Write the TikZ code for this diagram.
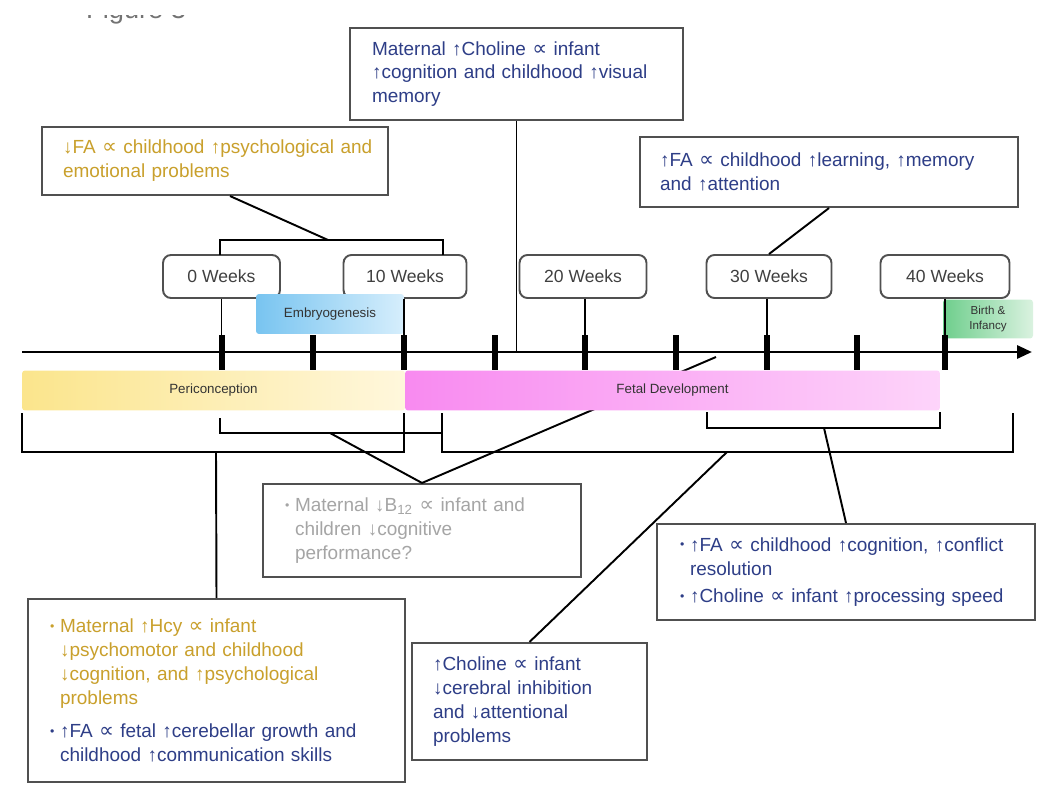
\documentclass[tikz,border=0pt]{standalone}
\usepackage{fontspec}
\setmainfont{Liberation Sans}
\newfontfamily\symfont{DejaVu Sans}[Scale=1.1]
\usetikzlibrary{arrows.meta}
\definecolor{navy}{RGB}{46,62,135}
\definecolor{gold}{RGB}{201,160,44}
\definecolor{graytext}{RGB}{165,165,165}
\definecolor{boxline}{RGB}{80,80,80}
\newcommand\prp{{\symfont ∝}}
\newcommand\bl{\makebox[0.2cm][l]{\raisebox{0.12em}{\scriptsize •}}}
\newcommand\ind{\hspace*{0.2cm}}
\begin{document}
\begin{tikzpicture}[x=0.02cm,y=-0.02cm,
  conn/.style={line width=1.1pt,black},
  tickmark/.style={line width=0.13cm,black},
  box/.style={draw=boxline,line width=1.2pt,fill=white,align=left,inner xsep=0.1cm,
    font=\fontsize{10.8}{13.6}\selectfont},
  week/.style={draw=boxline,line width=1.1pt,rounded corners=0.16cm,fill=white,
    minimum height=0.86cm,font=\fontsize{10}{11}\selectfont,text=black!75},
  bar/.style={rounded corners=0.06cm,minimum height=0.8cm,
    font=\fontsize{7.6}{9}\selectfont,text=black!80}]
\useasboundingbox (0,0) rectangle (1050,800);

% title (only its lower edge shows, as in the scan)
\node[anchor=base west,font=\fontsize{15.5}{18}\selectfont,text=black!55] (title) at (80,19) {Figure 3};
\fill[white] (60,-10) rectangle (220,15);

% axis coordinates
\coordinate (axL) at (22,352);
\coordinate (axR) at (1032,352);
\foreach \i/\x in {0/222,1/313,2/404,3/495,4/585,5/676,6/767,7/857,8/945}{
  \coordinate (t\i) at (\x,352);
}

% bracket coordinates
\coordinate (tbL) at (220,255);
\coordinate (tbR) at (443,255);
\coordinate (tbM) at (328,240);
\coordinate (pbL) at (22,413);
\coordinate (pbR) at (404,413);
\coordinate (pbB) at (216,452);
\coordinate (ibL) at (220,418);
\coordinate (ibR) at (442,433);
\coordinate (ibM) at (330,433);
\coordinate (fbL) at (442,413);
\coordinate (fbR) at (1013,413);
\coordinate (fbM) at (727,452);
\coordinate (lbL) at (707,412);
\coordinate (lbR) at (940,412);
\coordinate (lbM) at (824,428);
\coordinate (b12end) at (716,357);

% text boxes (top)
\node[box,text=gold,minimum width=6.92cm,minimum height=1.36cm,text width=6.72cm] (fa1) at (215,161)
 {\leftskip=0.32cm ↓FA \prp{} childhood ↑psychological and\\emotional problems\par};
\node[box,text=navy,minimum width=6.66cm,minimum height=1.84cm,text width=6.46cm] (ch1) at (516.5,74)
 {\leftskip=0.34cm Maternal ↑Choline \prp{} infant\\↑cognition and childhood ↑visual\\memory\par};
\node[box,text=navy,minimum width=7.56cm,minimum height=1.4cm,text width=7.36cm] (fa2) at (829,172)
 {\leftskip=0.30cm ↑FA \prp{} childhood ↑learning, ↑memory\\and ↑attention\par};

% lower boxes
\node[box,text=graytext,minimum width=6.36cm,minimum height=1.86cm,text width=6.16cm] (b12) at (422,530.5)
 {\leftskip=0.34cm \bl Maternal ↓B\textsubscript{12} \prp{} infant and\\\ind children ↓cognitive\\\ind performance?\par};
\node[box,text=navy,minimum width=7.56cm,minimum height=1.92cm,text width=7.36cm] (br) at (846,572)
 {\leftskip=0.36cm \bl ↑FA \prp{} childhood ↑cognition, ↑conflict\\\ind resolution\\[2pt]\bl ↑Choline \prp{} infant ↑processing speed\par};
\node[box,minimum width=7.54cm,minimum height=3.66cm,text width=7.34cm] (bl) at (216.5,690.5)
 {\leftskip=0.34cm \color{gold}\bl Maternal ↑Hcy \prp{} infant\\\ind ↓psychomotor and childhood\\\ind ↓cognition, and ↑psychological\\\ind problems\\[5pt]\color{navy}\bl ↑FA \prp{} fetal ↑cerebellar growth and\\\ind childhood ↑communication skills\par};
\node[box,text=navy,minimum width=4.7cm,minimum height=2.34cm,text width=4.5cm] (cb) at (529.5,701.5)
 {\leftskip=0.32cm ↑Choline \prp{} infant\\↓cerebral inhibition\\and ↓attentional\\problems\par};

% line that runs under the fetal bar
\draw[conn] (b12.north) -- (b12end);

% week boxes
\node[week,minimum width=2.34cm] (w0) at (221.5,276.5) {0 Weeks};
\node[week,minimum width=2.46cm] (w10) at (405,276.5) {10 Weeks};
\node[week,minimum width=2.54cm] (w20) at (583,276.5) {20 Weeks};
\node[week,minimum width=2.5cm] (w30) at (769,276.5) {30 Weeks};
\node[week,minimum width=2.58cm] (w40) at (945,276.5) {40 Weeks};

% top bracket and its connectors
\draw[conn] (tbL) -- ++(0,-15) -| (tbR);
\draw[conn] ([xshift=0.3cm]fa1.south) -- (tbM);
\draw[conn] (ch1.south) -- (ch1.south |- axL);
\draw[conn] (fa2.south) -- (w30.north);

% phase boxes above the axis
\node[bar,left color={rgb,255:red,120;green,196;blue,240},right color={rgb,255:red,214;green,238;blue,252},
  minimum width=2.96cm,minimum height=0.8cm] (emb) at (330,314) {Embryogenesis};
\node[bar,left color={rgb,255:red,110;green,206;blue,140},right color={rgb,255:red,218;green,242;blue,224},
  minimum width=1.8cm,minimum height=0.78cm,align=center,font=\fontsize{6.6}{8}\selectfont] (birth) at (988,319) {Birth \&\\Infancy};

% week connectors
\draw[conn] (w0.south) -- (w0.south |- t0);
\draw[conn] (w10.south -| t2) -- (t2);
\draw[conn] (w20.south -| t4) -- (t4);
\draw[conn] (w30.south -| t6) -- (t6);
\draw[conn] (w40.south -| t8) -- (t8);

% axis and ticks
\draw[line width=1.7pt,-{Triangle[length=0.3cm,width=0.26cm]}] (axL) -- (axR);
\foreach \i in {0,...,8}{
  \draw[tickmark] (t\i) ++(0,-17) -- ++(0,35);
}

% phase bars below the axis
\node[bar,left color={rgb,255:red,251;green,229;blue,140},right color={rgb,255:red,255;green,247;blue,220},
  minimum width=7.66cm] (peri) at (213.5,390.5) {Periconception};
\node[bar,left color={rgb,255:red,248;green,138;blue,240},right color={rgb,255:red,253;green,212;blue,250},
  minimum width=10.7cm] (fetal) at (672.5,390.5) {};
\node[font=\fontsize{7.6}{9}\selectfont,text=black!80] (fetaltxt) at (fetal.center) {Fetal Development};

% brackets below the axis
\draw[conn] (pbL) -- ++(0,39) -| (pbR);
\draw[conn] (ibL) -- ++(0,15) -- (ibR);
\draw[conn] (fbL) -- ++(0,39) -| (fbR);
\draw[conn] (lbL) -- ++(0,16) -| (lbR);

% lower connectors
\draw[conn] (ibM) -- (b12.north);
\draw[conn] (bl.north) -- (pbB);
\draw[conn] (cb.north) -- (fbM);
\draw[conn] (lbM) -- (br.north);
\end{tikzpicture}
\end{document}
